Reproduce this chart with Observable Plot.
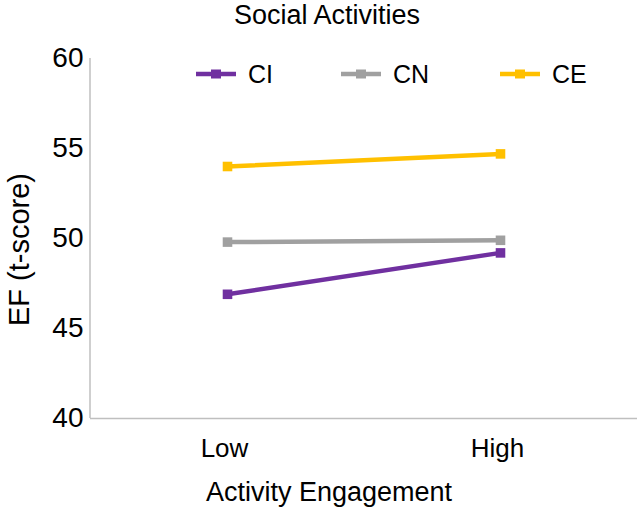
<!DOCTYPE html>
<html>
<head>
<meta charset="utf-8">
<script src="https://cdn.jsdelivr.net/npm/d3@7"></script>
<script src="https://cdn.jsdelivr.net/npm/@observablehq/plot@0.6"></script>
<style>
  html, body { margin: 0; padding: 0; background: #fff; }
  body { font-family: "Liberation Sans", Arial, Helvetica, sans-serif; color: #000; }
  #wrap { position: relative; width: 640px; height: 509px; overflow: hidden; }
  #title { position: absolute; left: 0; top: 0; width: 654px; height: 40px; text-align: center;
           font-size: 27px; line-height: 30px; }
  #chart { position: absolute; left: 0; top: 40px; }
  .leg { position: absolute; top: 58px; height: 32px; display: flex; align-items: center; font-size: 25px; }
  .leg svg { margin-right: 12px; }
</style>
</head>
<body>
<div id="wrap">
  <div id="title"></div>
  <div id="chart"></div>
</div>
<script>
const titleText = "Social Activities";
const groups = ["CI", "CN", "CE"];
const colors = ["#7030A0", "#A0A0A0", "#FFC000"];
const levels = ["Low", "High"];
const ciValues = [46.9, 49.2];
const cnValues = [49.8, 49.9];
const ceValues = [54.0, 54.7];
const yTicks = [40, 45, 50, 55, 60];
const xLabel = "Activity Engagement";
const yLabel = "EF (t-score)";

document.getElementById("title").textContent = titleText;

const series = [ciValues, cnValues, ceValues];
const data = [];
groups.forEach((g, i) => levels.forEach((l, j) => data.push({group: g, level: l, value: series[i][j]})));

const chart = Plot.plot({
  width: 640,
  height: 469,
  marginTop: 18,
  marginBottom: 91,
  marginLeft: 90,
  marginRight: 3,
  style: {fontFamily: '"Liberation Sans", Arial, sans-serif', color: "#000", background: "#fff"},
  x: {type: "point", domain: levels, padding: 0.5},
  y: {domain: [40, 60]},
  color: {domain: groups, range: colors},
  marks: [
    Plot.ruleY([40], {stroke: "#BFBFBF", strokeWidth: 1.5}),
    Plot.ruleX([0], {x: null, render: (index, scales, values, dims) => {
      const g = d3.create("svg:g");
      g.append("line").attr("x1", dims.marginLeft).attr("x2", dims.marginLeft)
        .attr("y1", dims.marginTop).attr("y2", dims.height - dims.marginBottom)
        .attr("stroke", "#BFBFBF").attr("stroke-width", 1.5);
      return g.node();
    }}),
    Plot.axisY({ticks: yTicks, tickSize: 0, tickPadding: 7, fontSize: 28, label: null}),
    Plot.axisX({tickSize: 0, tickPadding: 20, fontSize: 26, label: null, dx: -3}),
    Plot.text([xLabel], {frameAnchor: "bottom", textAnchor: "middle", lineAnchor: "middle", dy: 74, dx: -35, fontSize: 27, text: d => d}),
    Plot.text([yLabel], {frameAnchor: "left", textAnchor: "middle", lineAnchor: "middle", dx: -71, dy: 11, rotate: -90, fontSize: 29, text: d => d}),
    Plot.line(data, {x: "level", y: "value", z: "group", stroke: "group", strokeWidth: 4.5}),
    Plot.dot(data, {x: "level", y: "value", fill: "group", symbol: "square", r: 5.4})
  ]
});
document.getElementById("chart").appendChild(chart);

// Legend (inside plot area, top)
const legendX = [196, 341, 500];
const wrap = document.getElementById("wrap");
groups.forEach((g, i) => {
  const item = document.createElement("div");
  item.className = "leg";
  item.style.left = legendX[i] + "px";
  item.innerHTML = `<svg width="40" height="12"><line x1="0" x2="40" y1="6" y2="6" stroke="${colors[i]}" stroke-width="4.5"/><rect x="15" y="1.5" width="10" height="9" fill="${colors[i]}"/></svg><span>${g}</span>`;
  wrap.appendChild(item);
});
</script>
</body>
</html>
